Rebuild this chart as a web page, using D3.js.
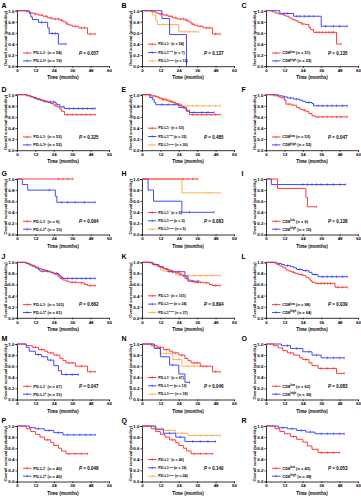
<!DOCTYPE html>
<html><head><meta charset="utf-8">
<script src="https://cdn.jsdelivr.net/npm/d3@7"></script>
<style>
body{margin:0;background:#fff}
svg text{font-family:"Liberation Sans",Arial,sans-serif;font-weight:bold;fill:#000}
</style></head>
<body><svg id="c" width="361" height="500"></svg>
<script>
// ---------- data (time in months, survival probability) ----------
const xTicks = [0, 12, 24, 36, 48, 60];
const yTicks = [0, 0.2, 0.4, 0.6, 0.8, 1.0];
const letters = ["A","B","C","D","E","F","G","H","I","J","K","L","M","N","O","P","Q","R"];
const pValues = ["0.057","0.137","0.135","0.325","0.485","0.047","0.094","0.083","0.138","0.662","0.894","0.039","0.047","0.046","0.083","0.048","0.140","0.053"];

// row 1
const a_neg = [[0,1],[6,0.98],[9,0.96],[11,0.94],[14,0.92],[17,0.9],[20,0.87],[23,0.85],[28,0.83],[30,0.8],[32,0.76],[34,0.74],[36,0.72],[40,0.69],[46,0.58],[51,0.58]];
const a_neg_c = [12,16,19,22,25,27,29,33,38,42,44,48,51];
const a_pos = [[0,1],[8,0.95],[9,0.89],[10,0.84],[14,0.79],[20,0.69],[21,0.59],[27,0.4],[32,0.4]];
const a_pos_c = [16,23,25,32];
const b_low = [[0,1],[13,0.86],[18,0.57],[29,0]];
const b_low_c = [];
const b_high = [[0,1],[7,0.92],[9,0.83],[10,0.75],[24,0.62],[37,0.62]];
const b_high_c = [14,20,28,31,34,37];
const c_low = [[0,1],[4,0.98],[6,0.96],[8,0.94],[11,0.92],[13,0.9],[15,0.87],[17,0.84],[19,0.82],[21,0.79],[23,0.76],[26,0.75],[28,0.7],[29,0.66],[31,0.61],[46,0.4],[49,0.4]];
const c_low_c = [24,33,35,37,39,41,43,44,49];
const c_high = [[0,1],[9,0.95],[18,0.9],[36,0.72],[53,0.72]];
const c_high_c = [12,14,20,22,25,28,31,39,44,48,53];
// row 2
const d_neg = [[0,1],[6,0.98],[9,0.96],[11,0.94],[13,0.92],[16,0.9],[18,0.88],[20,0.86],[22,0.84],[24,0.81],[26,0.78],[28,0.74],[29,0.7],[31,0.64],[51,0.64]];
const d_neg_c = [14,19,25,33,36,39,42,45,48,51];
const d_pos = [[0,1],[7,0.98],[9,0.96],[11,0.94],[13,0.92],[15,0.9],[17,0.88],[20,0.87],[25,0.85],[26,0.82],[28,0.78],[31,0.75],[51,0.75]];
const d_pos_c = [12,18,22,24,30,34,37,40,43,46,49,51];
const e_low = [[0,1],[5,0.95],[7,0.91],[8,0.86],[9,0.82],[24,0.77],[29,0.72],[31,0.68],[47,0.68]];
const e_low_c = [13,17,21,27,34,39,43,47];
const e_high = [[0,1],[6,0.97],[11,0.93],[13,0.9],[17,0.87],[21,0.83],[26,0.8],[51,0.8]];
const e_high_c = [15,19,23,30,33,36,40,44,48,51];
const f_low = [[0,1],[5,0.98],[8,0.96],[10,0.94],[12,0.9],[13,0.83],[17,0.81],[20,0.77],[22,0.74],[24,0.72],[26,0.7],[28,0.66],[30,0.62],[32,0.6],[53,0.6]];
const f_low_c = [15,25,34,37,40,43,46,49,53];
const f_high = [[0,1],[8,0.98],[11,0.96],[14,0.94],[18,0.92],[22,0.9],[24,0.88],[26,0.86],[30,0.84],[31,0.8],[53,0.8]];
const f_high_c = [12,16,20,28,34,37,40,43,46,50,53];
// row 3
const g_neg = [[0,1],[36.5,1]];
const g_neg_c = [27,30,33,36.5];
const g_pos = [[0,1],[3.5,0.9],[7,0.8],[25,0.69],[26,0.58],[51,0.58]];
const g_pos_c = [21,29,33,38,44,51];
const h_low = [[0,1],[4,0.8],[7.5,0.6],[26,0.4],[47,0.4]];
const h_low_c = [31,47];
const h_high = [[0,1],[26,0.75],[51,0.75]];
const h_high_c = [43,45,51];
const i_low = [[0,1],[7.5,0.83],[26,0.67],[27,0.5],[33,0.5]];
const i_low_c = [33];
const i_high = [[0,1],[3.5,0.9],[52,0.9]];
const i_high_c = [24,27,30,33,36,40,44,48,52];
// row 4
const j_neg = [[0,1],[5,0.99],[7,0.97],[9,0.95],[11,0.93],[12,0.91],[14,0.89],[16,0.87],[18,0.85],[20,0.83],[22,0.81],[24,0.79],[26,0.77],[27,0.74],[28,0.71],[30,0.68],[32,0.66],[34,0.64],[40,0.63],[44,0.6],[46,0.58],[51,0.58]];
const j_neg_c = [13,19,25,29,36,38,42,48,51];
const j_pos = [[0,1],[6,0.98],[8,0.95],[10,0.93],[12,0.9],[14,0.87],[15,0.84],[22,0.82],[24,0.8],[27,0.78],[28,0.75],[29,0.73],[30,0.71],[51,0.71]];
const j_pos_c = [17,20,26,33,36,39,42,45,48,51];
const k_low = [[0,1],[7,0.96],[11,0.92],[14,0.88],[17,0.83],[28,0.75],[30,0.66],[37,0.66]];
const k_low_c = [20,24,33,37];
const k_high = [[0,1],[6,0.97],[8,0.94],[10,0.92],[12,0.86],[14,0.84],[20,0.81],[22,0.78],[24,0.76],[51,0.76]];
const k_high_c = [16,27,30,34,38,42,46,51];
const l_low = [[0,1],[5,0.99],[7,0.96],[9,0.93],[11,0.9],[13,0.86],[15,0.84],[17,0.82],[19,0.8],[21,0.78],[24,0.76],[26,0.73],[28,0.7],[29,0.67],[30,0.64],[32,0.62],[45,0.55],[53,0.55]];
const l_low_c = [18,23,34,36,38,40,42,47,50,53];
const l_high = [[0,1],[7,0.98],[10,0.96],[12,0.94],[16,0.92],[18,0.9],[20,0.87],[24,0.85],[28,0.82],[30,0.78],[34,0.74],[53,0.74]];
const l_high_c = [14,22,26,32,37,40,43,46,50,53];
// row 5
const m_neg = [[0,1],[6,0.97],[10,0.94],[14,0.9],[18,0.87],[20,0.84],[24,0.8],[28,0.74],[30,0.7],[32,0.66],[38,0.6],[46,0.5],[51,0.5]];
const m_neg_c = [12,16,22,26,34,36,42,48,51];
const m_pos = [[0,1],[6,0.94],[8,0.87],[12,0.81],[16,0.77],[20,0.71],[24,0.61],[27,0.52],[29,0.45],[40,0.45]];
const m_pos_c = [14,22,32,36,40];
const n_low = [[0,1],[8,0.92],[12,0.77],[18,0.62],[24,0.46],[28,0.31],[31,0.31]];
const n_low_c = [20,31];
const n_high = [[0,1],[8,0.94],[12,0.83],[20,0.72],[26,0.6],[40,0.6]];
const n_high_c = [16,24,30,34,40];
const o_low = [[0,1],[5,0.97],[8,0.93],[11,0.88],[14,0.84],[18,0.8],[22,0.75],[24,0.72],[28,0.66],[30,0.61],[34,0.56],[46,0.47],[51,0.47]];
const o_low_c = [16,26,36,40,44,51];
const o_high = [[0,1],[10,0.97],[16,0.92],[24,0.86],[30,0.8],[36,0.75],[51,0.75]];
const o_high_c = [14,20,28,33,40,44,48,51];
// row 6
const p_neg = [[0,1],[6,0.95],[9,0.9],[12,0.85],[15,0.8],[18,0.75],[22,0.7],[24,0.65],[27,0.6],[29,0.55],[32,0.5],[46,0.5]];
const p_neg_c = [20,34,38,42,46];
const p_pos = [[0,1],[8,0.97],[12,0.95],[18,0.92],[24,0.88],[30,0.84],[51,0.84]];
const p_pos_c = [14,21,27,33,37,41,45,48,51];
const q_low = [[0,1],[9,0.94],[14,0.87],[22,0.8],[28,0.72],[48,0.72]];
const q_low_c = [18,25,33,38,43,48];
const q_high = [[0,1],[8,0.96],[14,0.92],[22,0.87],[30,0.83],[51,0.83]];
const q_high_c = [17,26,34,38,42,46,51];
const r_low = [[0,1],[6,0.95],[9,0.9],[12,0.86],[16,0.81],[20,0.76],[24,0.71],[27,0.64],[30,0.58],[34,0.52],[48,0.52]];
const r_low_c = [18,36,40,44,48];
const r_high = [[0,1],[8,0.97],[14,0.95],[20,0.92],[26,0.89],[32,0.86],[51,0.86]];
const r_high_c = [11,17,23,29,36,40,44,48,51];

// group definitions: [base, superscript, n, steps, censored times, colour key]
const grpRows = [
 [[["PD-L1","−",54,a_neg,a_neg_c,"r"],["PD-L1","+",19,a_pos,a_pos_c,"b"]],
  [["PD-L1","−",54,a_neg,a_neg_c,"r"],["PD-L1","low",7,b_low,b_low_c,"b"],["PD-L1","high",12,b_high,b_high_c,"o"]],
  [["CD8","low",51,c_low,c_low_c,"r"],["CD8","high",22,c_high,c_high_c,"b"]]],
 [[["PD-L1","−",53,d_neg,d_neg_c,"r"],["PD-L1","+",52,d_pos,d_pos_c,"b"]],
  [["PD-L1","−",53,d_neg,d_neg_c,"r"],["PD-L1","low",22,e_low,e_low_c,"b"],["PD-L1","high",30,e_high,e_high_c,"o"]],
  [["CD8","low",53,f_low,f_low_c,"r"],["CD8","high",52,f_high,f_high_c,"b"]]],
 [[["PD-L1","−",6,g_neg,g_neg_c,"r"],["PD-L1","+",10,g_pos,g_pos_c,"b"]],
  [["PD-L1","−",6,g_neg,g_neg_c,"r"],["PD-L1","low",5,h_low,h_low_c,"b"],["PD-L1","high",5,h_high,h_high_c,"o"]],
  [["CD8","low",6,i_low,i_low_c,"r"],["CD8","high",10,i_high,i_high_c,"b"]]],
 [[["PD-L1","−",101,j_neg,j_neg_c,"r"],["PD-L1","+",61,j_pos,j_pos_c,"b"]],
  [["PD-L1","−",101,j_neg,j_neg_c,"r"],["PD-L1","low",24,k_low,k_low_c,"b"],["PD-L1","high",37,k_high,k_high_c,"o"]],
  [["CD8","low",98,l_low,l_low_c,"r"],["CD8","high",64,l_high,l_high_c,"b"]]],
 [[["PD-L1","−",67,m_neg,m_neg_c,"r"],["PD-L1","+",31,m_pos,m_pos_c,"b"]],
  [["PD-L1","−",67,m_neg,m_neg_c,"r"],["PD-L1","low",13,n_low,n_low_c,"b"],["PD-L1","high",18,n_high,n_high_c,"o"]],
  [["CD8","low",62,o_low,o_low_c,"r"],["CD8","high",36,o_high,o_high_c,"b"]]],
 [[["PD-L1","−",40,p_neg,p_neg_c,"r"],["PD-L1","+",40,p_pos,p_pos_c,"b"]],
  [["PD-L1","−",40,p_neg,p_neg_c,"r"],["PD-L1","low",16,q_low,q_low_c,"b"],["PD-L1","high",24,q_high,q_high_c,"o"]],
  [["CD8","low",42,r_low,r_low_c,"r"],["CD8","high",38,r_high,r_high_c,"b"]]]
];

// ---------- drawing ----------
const colors = {r:"#ff2626", b:"#2b35ff", o:"#ffa845"};
const colX = [17, 142, 266];
const rowY = [10.7, 94.7, 179, 262.3, 344, 426];
const W = 92, H = 55.5;
const svg = d3.select("#c");

grpRows.forEach((row, ri) => row.forEach((series, ci) => {
  const idx = ri*3 + ci;
  const x0 = colX[ci], y0 = rowY[ri];
  const g = svg.append("g").attr("transform", `translate(${x0},${y0})`);
  const x = d3.scaleLinear().domain([0,60]).range([0,W]);
  const y = d3.scaleLinear().domain([0,1]).range([H,0]);

  svg.append("text").attr("x", ci*120 + 1.5).attr("y", y0 - 3.2)
    .attr("font-size", 7).text(letters[idx]);

  const ya = g.append("g").call(d3.axisLeft(y).tickValues(yTicks).tickFormat(d3.format(".1f")).tickSize(1.6).tickPadding(1));
  const xa = g.append("g").attr("transform", `translate(0,${H})`)
    .call(d3.axisBottom(x).tickValues(xTicks).tickSize(1.6).tickPadding(1.2));
  [ya, xa].forEach(a => {
    a.select(".domain").attr("stroke","#000").attr("stroke-width",0.8);
    a.selectAll(".tick line").attr("stroke","#000").attr("stroke-width",0.7);
    a.selectAll("text").attr("font-size",4.4).attr("font-family","Liberation Sans, Arial, sans-serif").attr("font-weight","bold");
  });

  g.append("text").attr("x", W/2).attr("y", H + 13.3).attr("text-anchor","middle")
    .attr("font-size", 4.6).text("Time (months)");
  g.append("text").attr("transform", `translate(-10.3,${H/2}) rotate(-90)`).attr("text-anchor","middle")
    .attr("font-size", 4.1).text("Overall survival (probability)");

  const line = d3.line().x(d => x(d[0])).y(d => y(d[1])).curve(d3.curveStepAfter);
  const bis = d3.bisector(d => d[0]).right;
  series.slice().reverse().forEach(s => {
    const [base, sup, n, data, cens, col] = s;
    g.append("path").datum(data).attr("d", line).attr("fill","none")
      .attr("stroke", colors[col]).attr("stroke-width", 0.9);
    g.selectAll(null).data(cens).enter().append("line")
      .attr("x1", c => x(c)).attr("x2", c => x(c))
      .attr("y1", c => y(data[Math.max(0,bis(data,c)-1)][1]) - 1.3)
      .attr("y2", c => y(data[Math.max(0,bis(data,c)-1)][1]) + 1.3)
      .attr("stroke", colors[col]).attr("stroke-width", 0.6);
  });

  const offs = series.length === 3 ? [-22, -13.7, -5.3] : [-13.2, -5.3];
  const fs = series.length === 3 ? 3.6 : 4.0;
  series.forEach((s, k) => {
    const [base, sup, n, data, cens, col] = s;
    const ly = H + offs[k];
    g.append("line").attr("x1", 6).attr("x2", 14.5).attr("y1", ly).attr("y2", ly)
      .attr("stroke", colors[col]).attr("stroke-width", 0.9);
    g.append("line").attr("x1", 10.2).attr("x2", 10.2).attr("y1", ly-1.3).attr("y2", ly+1.3)
      .attr("stroke", colors[col]).attr("stroke-width", 0.6);
    const t = g.append("text").attr("x", 16.3).attr("y", ly + fs*0.36).attr("font-size", fs);
    t.append("tspan").text(base);
    t.append("tspan").attr("dy", -fs*0.38).attr("font-size", fs*0.7).text(sup);
    t.append("tspan").attr("dy", fs*0.38).text(` (n = ${n})`);
  });

  const pt = g.append("text").attr("x", 62).attr("y", H - 11.6).attr("font-size", 4.5);
  pt.append("tspan").attr("font-style","italic").text("P");
  pt.append("tspan").text(` = ${pValues[idx]}`);
}));
</script>
</body></html>
